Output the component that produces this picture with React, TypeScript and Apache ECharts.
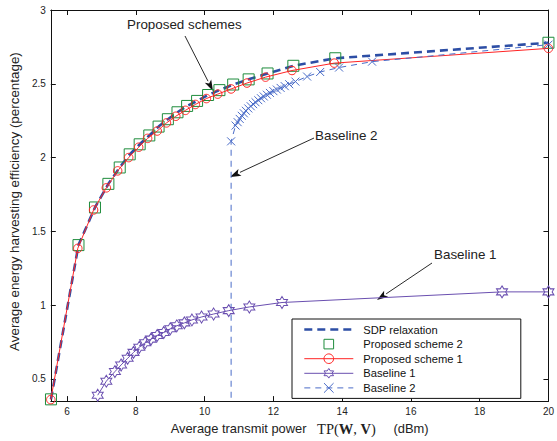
import React, { useEffect, useRef } from "react";
import * as echarts from "echarts";

// ---- data ----
const seriesNames = ["SDP relaxation", "Proposed scheme 2", "Proposed scheme 1", "Baseline 1", "Baseline 2"];

const scheme1X = [5.525, 6.31, 6.77, 7.14, 7.47, 7.79, 8.08, 8.34, 8.62, 8.89, 9.16, 9.44, 9.73, 10.05, 10.38, 10.77, 11.23, 11.77, 12.54, 13.77, 20];
const scheme1Y = [0.36, 1.385, 1.645, 1.795, 1.91, 2.0, 2.07, 2.13, 2.18, 2.235, 2.28, 2.32, 2.36, 2.4, 2.43, 2.465, 2.505, 2.545, 2.59, 2.64, 2.74];

const scheme2X = [5.53, 6.33, 6.81, 7.2, 7.53, 7.82, 8.11, 8.39, 8.66, 8.93, 9.21, 9.49, 9.78, 10.1, 10.43, 10.83, 11.28, 11.83, 12.58, 13.8, 20];
const scheme2Y = [0.362, 1.407, 1.662, 1.822, 1.933, 2.022, 2.09, 2.15, 2.21, 2.26, 2.307, 2.35, 2.384, 2.424, 2.457, 2.495, 2.53, 2.57, 2.622, 2.673, 2.778];

const sdpX = [5.53, 6.33, 6.81, 7.2, 7.53, 7.82, 8.11, 8.39, 8.66, 8.93, 9.21, 9.49, 9.78, 10.1, 10.43, 10.83, 11.28, 11.83, 12.58, 13.8, 20];
const sdpY = [0.362, 1.407, 1.662, 1.822, 1.933, 2.022, 2.09, 2.15, 2.21, 2.26, 2.307, 2.35, 2.384, 2.424, 2.457, 2.495, 2.53, 2.57, 2.622, 2.673, 2.778];

const base1X = [6.89, 7.14, 7.39, 7.57, 7.76, 7.93, 8.1, 8.27, 8.44, 8.62, 8.81, 9.0, 9.19, 9.41, 9.63, 9.91, 10.26, 10.7, 11.3, 12.25, 18.65, 20];
const base1Y = [0.39, 0.485, 0.55, 0.595, 0.64, 0.68, 0.715, 0.745, 0.77, 0.795, 0.815, 0.84, 0.86, 0.88, 0.9, 0.92, 0.94, 0.963, 0.988, 1.018, 1.09, 1.09];

const base2X = [10.77, 10.77, 10.9, 10.96, 11.02, 11.08, 11.14, 11.2, 11.27, 11.34, 11.41, 11.48, 11.56, 11.64, 11.72, 11.81, 11.9, 12.0, 12.1, 12.21, 12.33, 12.46, 12.64, 12.98, 13.36, 13.91, 14.87, 20];
const base2Y = [0, 2.11, 2.217, 2.24, 2.262, 2.283, 2.3, 2.317, 2.333, 2.348, 2.362, 2.375, 2.389, 2.402, 2.414, 2.426, 2.438, 2.45, 2.461, 2.472, 2.484, 2.497, 2.515, 2.549, 2.58, 2.61, 2.65, 2.765];

const xMin = 5.525;
const xMax = 20;
const yMin = 0.35;
const yMax = 3;

const pairs = (xs: number[], ys: number[]) => xs.map((x, i) => [x, ys[i]]);

const HEXAGRAM =
  "path://M0,-100L28.9,-50L86.6,-50L57.7,0L86.6,50L28.9,50L0,100L-28.9,50L-86.6,50L-57.7,0L-86.6,-50L-28.9,-50Z";
const XMARK = "path://M0,0L10,10M10,0L0,10";

const SANS = "'Liberation Sans', Arial, Helvetica, sans-serif";
const SERIF = "'Liberation Serif', 'Times New Roman', serif";

const C_SDP = "#2d4ea5";
const C_S2 = "#1e8c3c";
const C_S1 = "#ff2424";
const C_B1 = "#6a4fb0";
const C_B2 = "#4a6cc8";

function arrow(x1: number, y1: number, x2: number, y2: number) {
  const dx = x2 - x1;
  const dy = y2 - y1;
  const len = Math.sqrt(dx * dx + dy * dy);
  const ux = dx / len;
  const uy = dy / len;
  const L = 11;
  const W = 3.6;
  const bx = x2 - ux * L;
  const by = y2 - uy * L;
  return [
    {
      type: "line",
      shape: { x1, y1, x2: bx, y2: by },
      style: { stroke: "#111", lineWidth: 0.9 },
      silent: true,
    },
    {
      type: "polygon",
      shape: {
        points: [
          [x2, y2],
          [bx - uy * W, by + ux * W],
          [bx + ux * 2.5, by + uy * 2.5],
          [bx + uy * W, by - ux * W],
        ],
      },
      style: { fill: "#111" },
      silent: true,
    },
  ];
}

export default function App() {
  const ref = useRef<HTMLDivElement>(null);

  useEffect(() => {
    if (!ref.current) return;
    const chart = echarts.init(ref.current, undefined, { renderer: "svg" });

    const tickStyle = { inside: true, length: 5, lineStyle: { color: "#111", width: 1 } };
    const lineAxis = { lineStyle: { color: "#111", width: 1 } };

    const option: any = {
      animation: false,
      backgroundColor: "#fff",
      textStyle: { fontFamily: SANS },
      grid: { left: 46, right: 5, top: 10, bottom: 34, containLabel: false },
      legend: {
        orient: "vertical",
        left: 292,
        top: 319,
        padding: [5, 58, 5, 11],
        itemWidth: 49,
        itemHeight: 12,
        itemGap: 3.6,
        borderColor: "#111",
        borderWidth: 1,
        backgroundColor: "#fff",
        selectedMode: false,
        textStyle: { fontSize: 11.2, color: "#111", fontFamily: SANS, padding: [0, 0, 0, 5] },
        data: [
          { name: seriesNames[0], itemStyle: { opacity: 0 }, lineStyle: { width: 2.6, type: [8, 5], color: C_SDP } },
          { name: seriesNames[1], itemStyle: { borderWidth: 1 }, lineStyle: { width: 0, opacity: 0 } },
          { name: seriesNames[2], itemStyle: { borderWidth: 1 }, lineStyle: { width: 1 } },
          { name: seriesNames[3], itemStyle: { borderWidth: 1 }, lineStyle: { width: 1 } },
          { name: seriesNames[4], itemStyle: { borderWidth: 1 }, lineStyle: { width: 1, type: [6, 5] } },
        ],
      },
      xAxis: [
        {
          type: "value",
          min: xMin,
          max: xMax,
          splitNumber: 7,
          position: "bottom",
          axisLine: lineAxis,
          axisTick: tickStyle,
          splitLine: { show: false },
          axisLabel: { showMinLabel: false, fontSize: 10, color: "#222", margin: 5, fontFamily: SANS },
          name: "{s|Average transmit power}   {m|TP(}{b|W}{m|, }{b|V}{m|)}     {s|(dBm)}",
          nameLocation: "middle",
          nameGap: 14,
          nameTextStyle: {
            fontSize: 12.7,
            color: "#222",
            fontFamily: SANS,
            rich: {
              s: { fontSize: 12.9, fontFamily: SANS, color: "#222" },
              m: { fontSize: 14.5, fontFamily: SERIF, color: "#222" },
              b: { fontSize: 14.5, fontFamily: SERIF, fontWeight: "bold", color: "#222" },
            },
          },
        },
        {
          type: "value",
          min: xMin,
          max: xMax,
          splitNumber: 7,
          position: "top",
          axisLine: lineAxis,
          axisTick: tickStyle,
          splitLine: { show: false },
          axisLabel: { show: false },
        },
      ],
      yAxis: [
        {
          type: "value",
          min: yMin,
          max: yMax,
          splitNumber: 5,
          position: "left",
          axisLine: { show: true, ...lineAxis },
          axisTick: { show: true, ...tickStyle },
          splitLine: { show: false },
          axisLabel: { showMinLabel: false, fontSize: 10, color: "#222", margin: 5, fontFamily: SANS },
          name: "Average energy harvesting efficiency (percentage)",
          nameLocation: "middle",
          nameGap: 24,
          nameTextStyle: { fontSize: 13.4, color: "#222", fontFamily: SANS, padding: [0, 0, 0, 8] },
        },
        {
          type: "value",
          min: yMin,
          max: yMax,
          splitNumber: 5,
          position: "right",
          axisLine: { show: true, ...lineAxis },
          axisTick: { show: true, ...tickStyle },
          splitLine: { show: false },
          axisLabel: { show: false },
        },
      ],
      series: [
        {
          name: seriesNames[0],
          type: "line",
          data: pairs(sdpX, sdpY),
          symbol: "none",
          clip: true,
          lineStyle: { color: C_SDP, width: 2.6, type: [8, 5] },
          itemStyle: { color: C_SDP },
          emphasis: { disabled: true },
          z: 2,
        },
        {
          name: seriesNames[1],
          type: "line",
          data: pairs(scheme2X, scheme2Y),
          symbol: "rect",
          symbolSize: 11,
          showAllSymbol: true,
          clip: false,
          lineStyle: { opacity: 0, width: 0, color: C_S2 },
          itemStyle: { color: "rgba(255,255,255,0)", borderColor: C_S2, borderWidth: 1 },
          emphasis: { disabled: true },
          z: 3,
        },
        {
          name: seriesNames[2],
          type: "line",
          data: pairs(scheme1X, scheme1Y),
          symbol: "circle",
          symbolSize: 8.5,
          showAllSymbol: true,
          clip: false,
          lineStyle: { color: C_S1, width: 1 },
          itemStyle: { color: "rgba(255,255,255,0)", borderColor: C_S1, borderWidth: 1 },
          emphasis: { disabled: true },
          z: 4,
        },
        {
          name: seriesNames[3],
          type: "line",
          data: pairs(base1X, base1Y),
          symbol: HEXAGRAM,
          symbolSize: [11, 12],
          showAllSymbol: true,
          clip: false,
          lineStyle: { color: C_B1, width: 1 },
          itemStyle: { color: "rgba(255,255,255,0)", borderColor: C_B1, borderWidth: 1 },
          emphasis: { disabled: true },
          z: 4,
        },
        {
          name: seriesNames[4],
          type: "line",
          data: pairs(base2X, base2Y),
          symbol: XMARK,
          symbolSize: 8,
          showAllSymbol: true,
          clip: true,
          lineStyle: { color: C_B2, width: 1, type: [6, 5] },
          itemStyle: { color: "rgba(255,255,255,0)", borderColor: C_B2, borderWidth: 1 },
          emphasis: { disabled: true },
          z: 4,
        },
      ],
      graphic: [
        {
          type: "text",
          left: 127,
          top: 18,
          style: { text: "Proposed schemes", fontSize: 13.4, fill: "#222", fontFamily: SANS },
        },
        {
          type: "text",
          left: 315,
          top: 129,
          style: { text: "Baseline 2", fontSize: 13.4, fill: "#222", fontFamily: SANS },
        },
        {
          type: "text",
          left: 434,
          top: 248,
          style: { text: "Baseline 1", fontSize: 13.4, fill: "#222", fontFamily: SANS },
        },
        ...arrow(185, 36, 213, 91),
        ...arrow(314, 138, 230, 177),
        ...arrow(432, 263, 377, 300),
      ],
    };

    chart.setOption(option);
    return () => chart.dispose();
  }, []);

  return (
    <div
      ref={ref}
      style={{ position: "absolute", left: 0, top: 0, width: 557, height: 441, background: "#fff" }}
    />
  );
}
